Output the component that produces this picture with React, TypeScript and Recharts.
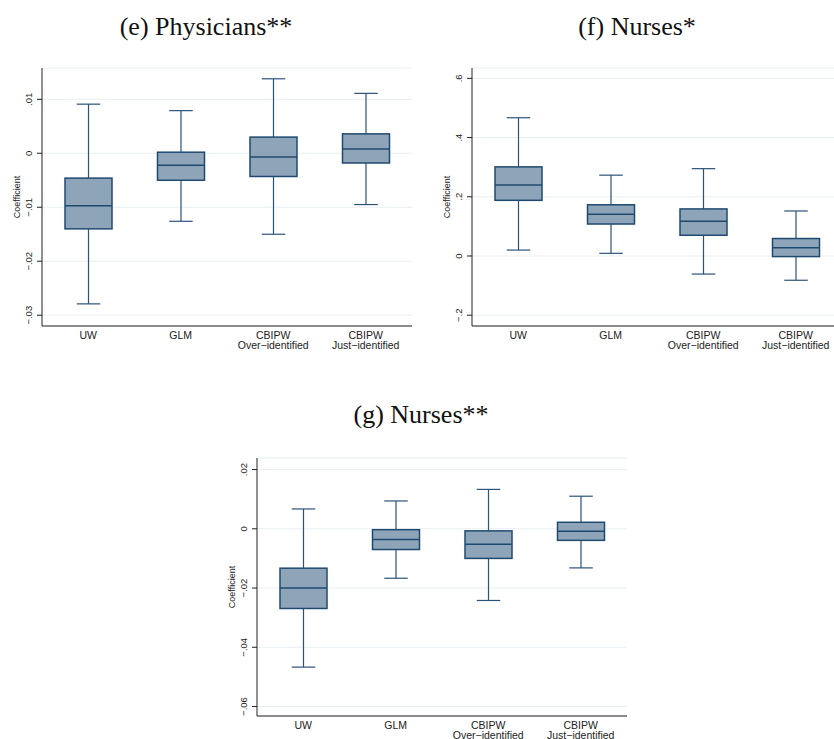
import { ComposedChart, Bar, XAxis, YAxis, CartesianGrid } from 'recharts';

// categories under each panel (two-line labels)
const methodTop = ['UW', 'GLM', 'CBIPW', 'CBIPW'];
const methodSub = ['', '', 'Over−identified', 'Just−identified'];

// (e) Physicians**
const physLow = [-0.0279, -0.0126, -0.015, -0.0095];
const physQ1 = [-0.014, -0.005, -0.0043, -0.0018];
const physMed = [-0.0097, -0.0022, -0.0007, 0.0008];
const physQ3 = [-0.0046, 0.0002, 0.003, 0.0036];
const physHigh = [0.0091, 0.0079, 0.0138, 0.0111];
const physTicks = [-0.03, -0.02, -0.01, 0, 0.01];

// (f) Nurses*
const nurseLow = [0.02, 0.009, -0.061, -0.082];
const nurseQ1 = [0.188, 0.108, 0.07, -0.002];
const nurseMed = [0.24, 0.141, 0.117, 0.028];
const nurseQ3 = [0.301, 0.173, 0.159, 0.059];
const nurseHigh = [0.467, 0.273, 0.295, 0.152];
const nurseTicks = [-0.2, 0, 0.2, 0.4, 0.6];

// (g) Nurses**
const nurse2Low = [-0.0467, -0.0167, -0.0242, -0.0132];
const nurse2Q1 = [-0.0269, -0.007, -0.01, -0.0039];
const nurse2Med = [-0.02, -0.0036, -0.0052, -0.0008];
const nurse2Q3 = [-0.0133, -0.0003, -0.0007, 0.0022];
const nurse2High = [0.0067, 0.0094, 0.0133, 0.011];
const nurse2Ticks = [-0.06, -0.04, -0.02, 0, 0.02];

const BOX_FILL = '#8ea4b9';
const BOX_LINE = '#1f4a70';
const WHISKER = '#2b5279';
const SANS = '"Liberation Sans", Arial, sans-serif';
const SERIF = '"Liberation Serif", "Times New Roman", serif';

const buildRows = (low: number[], q1: number[], med: number[], q3: number[], high: number[]) =>
  methodTop.map((name, i) => ({ name, sub: methodSub[i], low: low[i], q1: q1[i], med: med[i], q3: q3[i], high: high[i] }));

// Stata-style numbers: .01, −.02, 0
const fmt = (v: number) => {
  if (v === 0) return '0';
  const s = String(Math.abs(v)).replace(/^0/, '');
  return v < 0 ? '−' + s : s;
};

// range bar spans low..high; quartiles are placed inside it on the same scale
const BoxShape = (props: any) => {
  const { x, y, width, height, payload } = props;
  const { low, q1, med, q3, high } = payload;
  const py = (v: number) => y + ((high - v) * height) / (high - low);
  const cx = x + width / 2;
  const cap = width / 4;
  return (
    <g>
      <line x1={cx} x2={cx} y1={py(high)} y2={py(q3)} stroke={WHISKER} strokeWidth={1.2} />
      <line x1={cx} x2={cx} y1={py(q1)} y2={py(low)} stroke={WHISKER} strokeWidth={1.2} />
      <line x1={cx - cap} x2={cx + cap} y1={py(high)} y2={py(high)} stroke={WHISKER} strokeWidth={1.2} />
      <line x1={cx - cap} x2={cx + cap} y1={py(low)} y2={py(low)} stroke={WHISKER} strokeWidth={1.2} />
      <rect x={x} y={py(q3)} width={width} height={py(q1) - py(q3)} fill={BOX_FILL} stroke={BOX_LINE} strokeWidth={1.5} />
      <line x1={x} x2={x + width} y1={py(med)} y2={py(med)} stroke={BOX_LINE} strokeWidth={1.5} />
    </g>
  );
};

const YTick = (props: any) => {
  const { x, y, payload } = props;
  return (
    <text transform={`translate(${x - 3.5},${y}) rotate(-90)`} textAnchor="middle" fontSize={9.5} fontFamily={SANS} fill="#222">
      {fmt(payload.value)}
    </text>
  );
};

const XTick = (props: any) => {
  const { x, y, index } = props;
  return (
    <g>
      <text x={x} y={y + 12.5} textAnchor="middle" fontSize={10.5} fontFamily={SANS} fill="#222">
        {methodTop[index]}
      </text>
      {methodSub[index] && (
        <text x={x} y={y + 23} textAnchor="middle" fontSize={10.5} fontFamily={SANS} fill="#222">
          {methodSub[index]}
        </text>
      )}
    </g>
  );
};

const CoefLabel = (props: any) => {
  const { viewBox } = props;
  const bx = viewBox.x + viewBox.width - 22;
  const by = viewBox.y + viewBox.height / 2;
  return (
    <text transform={`translate(${bx},${by}) rotate(-90)`} textAnchor="middle" fontSize={9} fontFamily={SANS} fill="#222">
      Coefficient
    </text>
  );
};

function BoxPanel({ rows, domain, ticks, width, rightPad }: any) {
  return (
    <ComposedChart width={width} height={300} data={rows} margin={{ top: 8, right: rightPad, bottom: 0, left: 0 }}>
      <CartesianGrid vertical={false} stroke="#e8eff2" />
      <XAxis
        dataKey="name"
        type="category"
        height={34}
        tickLine={false}
        tickSize={0}
        tickMargin={0}
        axisLine={{ stroke: '#222' }}
        tick={<XTick />}
        interval={0}
      />
      <YAxis
        type="number"
        width={42}
        domain={domain}
        ticks={ticks}
        allowDataOverflow
        tickSize={5}
        tickMargin={2}
        axisLine={{ stroke: '#222' }}
        tickLine={{ stroke: '#222' }}
        tick={<YTick />}
        label={<CoefLabel />}
      />
      <Bar dataKey={(d: any) => [d.low, d.high]} barSize={47} shape={<BoxShape />} isAnimationActive={false} />
    </ComposedChart>
  );
}

const titles = [
  { text: '(e) Physicians**', x: 206, y: 35 },
  { text: '(f) Nurses*', x: 637, y: 35 },
  { text: '(g) Nurses**', x: 421, y: 423 },
];

export default function App() {
  const phys = buildRows(physLow, physQ1, physMed, physQ3, physHigh);
  const nurse = buildRows(nurseLow, nurseQ1, nurseMed, nurseQ3, nurseHigh);
  const nurse2 = buildRows(nurse2Low, nurse2Q1, nurse2Med, nurse2Q3, nurse2High);

  return (
    <div style={{ position: 'absolute', left: 0, top: 0, width: 834, height: 739, overflow: 'hidden', background: '#fff' }}>
      <svg width={834} height={739} style={{ position: 'absolute', left: 0, top: 0 }}>
        {titles.map((t) => (
          <text key={t.text} x={t.x} y={t.y} textAnchor="middle" fontSize={26} fontFamily={SERIF} fill="#111">
            {t.text}
          </text>
        ))}
      </svg>
      <div style={{ position: 'absolute', left: 0, top: 60 }}>
        <BoxPanel rows={phys} domain={[-0.032, 0.0158]} ticks={physTicks} width={420} rightPad={8} />
      </div>
      <div style={{ position: 'absolute', left: 430, top: 60 }}>
        <BoxPanel rows={nurse} domain={[-0.2365, 0.635]} ticks={nurseTicks} width={424} rightPad={12} />
      </div>
      <div style={{ position: 'absolute', left: 215, top: 450 }}>
        <BoxPanel rows={nurse2} domain={[-0.0632, 0.0239]} ticks={nurse2Ticks} width={420} rightPad={8} />
      </div>
    </div>
  );
}
